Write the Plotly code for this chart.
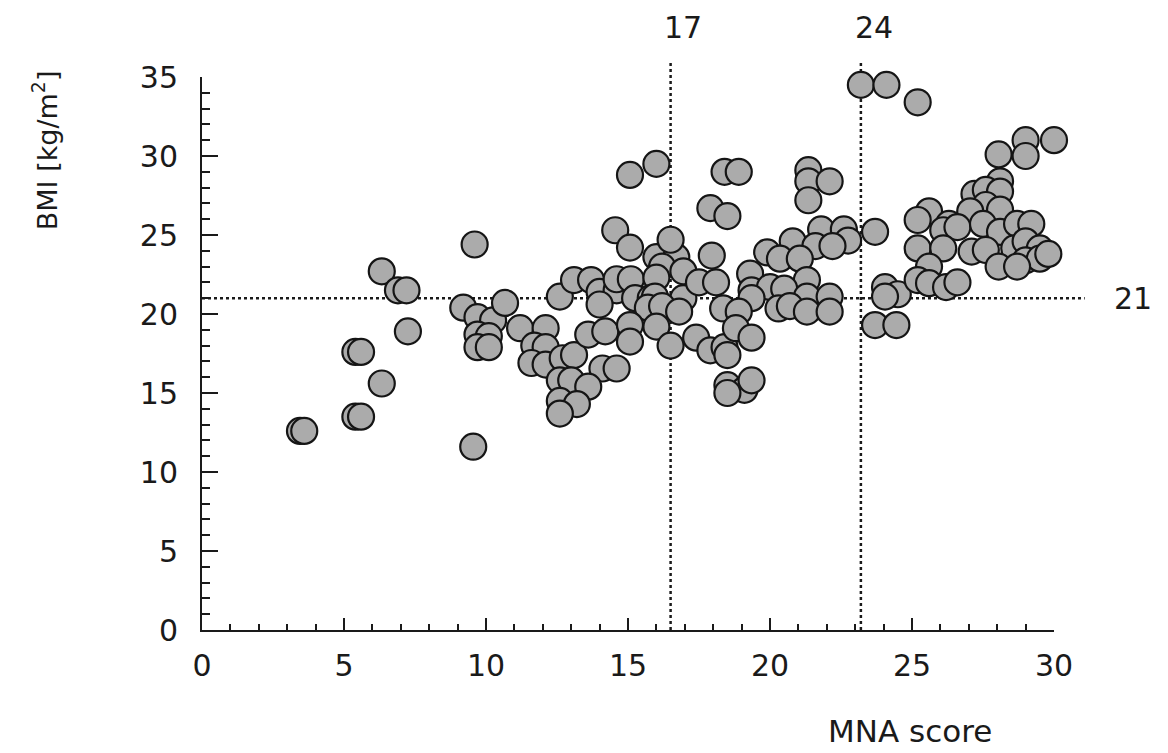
import plotly.graph_objects as go

# MNA score (x) and BMI (y)
mna = [3.45, 3.6, 5.4, 5.6, 5.4, 5.6, 6.33, 6.33, 6.9, 7.2, 7.25,
       9.2, 9.6, 9.55, 9.7, 10.25, 10.67, 9.7, 10.1, 9.7, 10.1,
       11.2, 12.1, 11.7, 12.1, 11.6, 12.1, 12.7, 13.1, 12.6,
       13.1, 13.7, 14.0, 14.6, 14.0, 14.6, 15.1, 13.6, 14.2, 14.1, 14.6,
       12.6, 13.0, 13.6, 12.6, 13.2, 12.6,
       14.55, 15.07, 15.07, 16.0, 16.0, 16.7, 16.5, 16.2, 16.95, 16.0,
       15.25, 15.8, 15.95, 16.95, 15.7, 16.2, 16.8, 15.07, 16.0, 15.07, 16.5,
       17.5, 18.1, 17.95, 19.3, 17.4, 17.9, 18.4, 18.5,
       18.4, 18.9, 17.9, 18.5, 18.5, 19.1, 18.5, 19.35,
       21.35, 21.35, 22.1, 21.35, 23.7, 21.8, 22.6, 20.8, 22.75, 21.6, 22.2,
       19.9, 20.35, 21.05, 21.3, 19.35, 20.0, 20.5, 19.35, 21.3, 22.1,
       24.05, 24.5, 24.05, 18.35, 18.9, 20.3, 20.7, 21.3, 22.1,
       23.7, 24.45, 18.8, 19.35,
       23.2, 24.1, 25.2, 29.0, 30.0, 28.05, 29.0,
       28.1, 27.2, 27.6, 28.1, 27.6, 27.05, 28.1, 25.6, 25.2, 26.3, 26.1, 26.6,
       27.5, 28.1, 28.7, 29.2,
       25.2, 26.1, 27.1, 27.6, 28.6, 29.0, 29.5, 29.0, 29.5, 28.05, 28.7, 25.6,
       25.2, 25.6, 26.2, 26.6, 29.8]
bmi = [12.6, 12.6, 17.6, 17.6, 13.5, 13.5, 22.7, 15.6, 21.5, 21.5, 18.9,
       20.4, 24.4, 11.6, 19.8, 19.6, 20.7, 18.7, 18.6, 17.9, 17.9,
       19.1, 19.1, 18.0, 17.9, 16.9, 16.8, 17.2, 17.4, 21.1,
       22.15, 22.15, 21.4, 21.5, 20.6, 22.2, 22.2, 18.7, 18.9, 16.55, 16.55,
       15.8, 15.8, 15.4, 14.5, 14.3, 13.7,
       25.3, 24.2, 28.8, 29.5, 23.6, 23.6, 24.7, 23.0, 22.7, 22.3,
       21.0, 21.0, 21.1, 21.0, 20.4, 20.5, 20.15, 19.3, 19.2, 18.25, 18.0,
       22.0, 22.0, 23.7, 22.55, 18.5, 17.7, 17.9, 17.4,
       29.0, 29.0, 26.7, 26.2, 15.5, 15.2, 15.0, 15.8,
       29.1, 28.4, 28.4, 27.2, 25.2, 25.35, 25.35, 24.6, 24.65, 24.3, 24.3,
       23.9, 23.5, 23.5, 22.15, 21.5, 21.7, 21.6, 21.0, 21.1, 21.1,
       21.7, 21.25, 21.1, 20.35, 20.15, 20.35, 20.5, 20.15, 20.15,
       19.3, 19.3, 19.1, 18.5,
       34.5, 34.5, 33.4, 31.0, 31.0, 30.1, 30.0,
       28.4, 27.6, 27.85, 27.75, 26.9, 26.5, 26.6, 26.5, 25.95, 25.7, 25.3, 25.5,
       25.7, 25.2, 25.7, 25.7,
       24.15, 24.15, 23.95, 24.05, 24.15, 24.6, 24.15, 23.4, 23.5, 23.0, 23.0, 23.0,
       22.15, 21.95, 21.7, 22.0, 23.8]

x_ticks = [0, 5, 10, 15, 20, 25, 30]
y_ticks = [0, 5, 10, 15, 20, 25, 30, 35]
mna_cutoffs = [16.5, 23.2]
mna_labels = ["17", "24"]
bmi_cutoff = 21
bmi_label = "21"

FONT = "DejaVu Sans"
INK = "#1a1a1a"

fig = go.Figure()
fig.add_trace(go.Scatter(
    x=mna, y=bmi, mode="markers", cliponaxis=False, showlegend=False,
    marker=dict(size=26, color="#ababab", line=dict(color="#151515", width=2.2)),
))

for xc, lab in zip(mna_cutoffs, mna_labels):
    fig.add_shape(type="line", xref="x", yref="paper", x0=xc, x1=xc, y0=0, y1=1.027,
                  line=dict(color=INK, width=2.5, dash="dot"), layer="below")
    fig.add_annotation(x=xc + 0.45, xref="x", y=1.09, yref="paper", text=lab,
                       xanchor="center", yanchor="middle",
                       showarrow=False, font=dict(family=FONT, size=30, color=INK))

fig.add_shape(type="line", xref="paper", yref="y", x0=0, x1=1.036, y0=bmi_cutoff, y1=bmi_cutoff,
              line=dict(color=INK, width=2.5, dash="dot"), layer="below")
fig.add_annotation(x=1.093, xref="paper", y=bmi_cutoff, yref="y", text=bmi_label,
                   xanchor="center", yanchor="middle",
                   showarrow=False, font=dict(family=FONT, size=30, color=INK))

fig.add_annotation(x=0.831, xref="paper", y=-0.183, yref="paper", text="MNA score",
                   xanchor="center", yanchor="middle",
                   showarrow=False, font=dict(family=FONT, size=31, color=INK))
fig.add_annotation(x=-0.184, xref="paper", y=0.868, yref="paper", text="BMI [kg/m<sup>2</sup>]",
                   xanchor="center", yanchor="middle",
                   textangle=-90, showarrow=False, font=dict(family=FONT, size=27, color=INK))

fig.update_xaxes(range=[0, 30], tickvals=x_ticks, ticks="inside", ticklen=12, tickwidth=2,
                 tickcolor=INK, showline=True, linecolor=INK, linewidth=2, showgrid=False,
                 zeroline=False, ticklabelstandoff=8,
                 tickfont=dict(family=FONT, size=30, color=INK),
                 minor=dict(dtick=1, ticks="inside", ticklen=6, tickwidth=1.5, tickcolor=INK))
fig.update_yaxes(range=[0, 35], tickvals=y_ticks, ticks="inside", ticklen=16, tickwidth=2,
                 tickcolor=INK, showline=True, linecolor=INK, linewidth=2, showgrid=False,
                 zeroline=False, ticklabelstandoff=16,
                 tickfont=dict(family=FONT, size=30, color=INK),
                 minor=dict(dtick=1, ticks="inside", ticklen=8, tickwidth=1.5, tickcolor=INK))

fig.update_layout(width=1168, height=753, margin=dict(l=202, r=114, t=77, b=123),
                  plot_bgcolor="white", paper_bgcolor="white")

fig.write_html("out.html")
